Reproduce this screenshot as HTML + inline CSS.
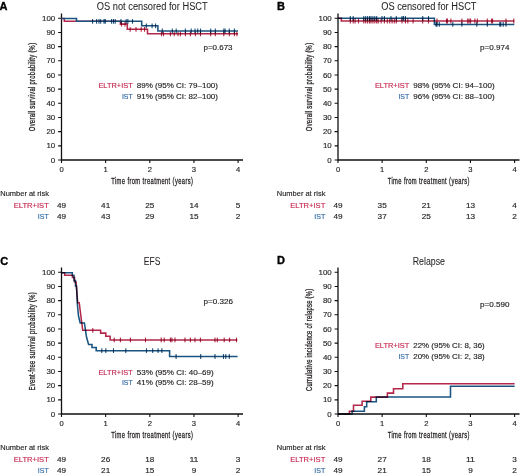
<!DOCTYPE html>
<html><head><meta charset="utf-8"><style>
html,body{margin:0;padding:0;background:#fff;}
svg{display:block;font-family:"Liberation Sans", sans-serif;filter:blur(0.3px);}
.c{mix-blend-mode:multiply;}
</style></head><body>
<svg width="520" height="475" viewBox="0 0 520 475">
<rect width="520" height="475" fill="#fff"/>
<text x="-0.60" y="9.90" font-size="11" fill="#000" font-weight="bold" stroke="#000" stroke-width="0.35">A</text>
<text x="96.80" y="10.20" font-size="10" fill="#231f20" textLength="110.90" lengthAdjust="spacingAndGlyphs" stroke="#231f20" stroke-width="0.05">OS not censored for HSCT</text>
<path d="M61.5,13.4V160.0H243" fill="none" stroke="#111" stroke-width="1.3"/>
<text x="55.20" y="162.60" font-size="7.6" fill="#231f20" text-anchor="end" textLength="4.40" lengthAdjust="spacingAndGlyphs" stroke="#231f20" stroke-width="0.15">0</text>
<text x="55.20" y="148.43" font-size="7.6" fill="#231f20" text-anchor="end" textLength="8.80" lengthAdjust="spacingAndGlyphs" stroke="#231f20" stroke-width="0.15">10</text>
<text x="55.20" y="134.26" font-size="7.6" fill="#231f20" text-anchor="end" textLength="8.80" lengthAdjust="spacingAndGlyphs" stroke="#231f20" stroke-width="0.15">20</text>
<text x="55.20" y="120.09" font-size="7.6" fill="#231f20" text-anchor="end" textLength="8.80" lengthAdjust="spacingAndGlyphs" stroke="#231f20" stroke-width="0.15">30</text>
<text x="55.20" y="105.92" font-size="7.6" fill="#231f20" text-anchor="end" textLength="8.80" lengthAdjust="spacingAndGlyphs" stroke="#231f20" stroke-width="0.15">40</text>
<text x="55.20" y="91.75" font-size="7.6" fill="#231f20" text-anchor="end" textLength="8.80" lengthAdjust="spacingAndGlyphs" stroke="#231f20" stroke-width="0.15">50</text>
<text x="55.20" y="77.58" font-size="7.6" fill="#231f20" text-anchor="end" textLength="8.80" lengthAdjust="spacingAndGlyphs" stroke="#231f20" stroke-width="0.15">60</text>
<text x="55.20" y="63.41" font-size="7.6" fill="#231f20" text-anchor="end" textLength="8.80" lengthAdjust="spacingAndGlyphs" stroke="#231f20" stroke-width="0.15">70</text>
<text x="55.20" y="49.24" font-size="7.6" fill="#231f20" text-anchor="end" textLength="8.80" lengthAdjust="spacingAndGlyphs" stroke="#231f20" stroke-width="0.15">80</text>
<text x="55.20" y="35.07" font-size="7.6" fill="#231f20" text-anchor="end" textLength="8.80" lengthAdjust="spacingAndGlyphs" stroke="#231f20" stroke-width="0.15">90</text>
<text x="55.20" y="20.90" font-size="7.6" fill="#231f20" text-anchor="end" textLength="13.20" lengthAdjust="spacingAndGlyphs" stroke="#231f20" stroke-width="0.15">100</text>
<text x="61.50" y="172.00" font-size="7.6" fill="#231f20" text-anchor="middle" stroke="#231f20" stroke-width="0.15">0</text>
<text x="105.65" y="172.00" font-size="7.6" fill="#231f20" text-anchor="middle" stroke="#231f20" stroke-width="0.15">1</text>
<text x="149.80" y="172.00" font-size="7.6" fill="#231f20" text-anchor="middle" stroke="#231f20" stroke-width="0.15">2</text>
<text x="193.95" y="172.00" font-size="7.6" fill="#231f20" text-anchor="middle" stroke="#231f20" stroke-width="0.15">3</text>
<text x="238.10" y="172.00" font-size="7.6" fill="#231f20" text-anchor="middle" stroke="#231f20" stroke-width="0.15">4</text>
<path d="M58.1,160.00H61.5M58.1,145.83H61.5M58.1,131.66H61.5M58.1,117.49H61.5M58.1,103.32H61.5M58.1,89.15H61.5M58.1,74.98H61.5M58.1,60.81H61.5M58.1,46.64H61.5M58.1,32.47H61.5M58.1,18.30H61.5M61.50,160.0V163.0M105.65,160.0V163.0M149.80,160.0V163.0M193.95,160.0V163.0M238.10,160.0V163.0" stroke="#111" stroke-width="1.1" fill="none"/>
<text transform="translate(35.3,131.20) rotate(-90) scale(0.66,1)" font-size="8.9" fill="#231f20" stroke="#231f20" stroke-width="0.3" textLength="133.79" lengthAdjust="spacing">Overall survival probability (%)</text>
<text transform="translate(111.2,183.5) scale(0.66,1)" font-size="8.8" fill="#231f20" stroke="#231f20" stroke-width="0.3" textLength="123.94" lengthAdjust="spacing">Time from treatment (years)</text>
<text x="0.30" y="196.30" font-size="7.9" fill="#231f20" textLength="48.60" lengthAdjust="spacingAndGlyphs" stroke="#231f20" stroke-width="0.15">Number at risk</text>
<text x="48.80" y="208.00" font-size="7.9" fill="#c52a52" text-anchor="end" textLength="35.00" lengthAdjust="spacingAndGlyphs" stroke="#c52a52" stroke-width="0.15">ELTR+IST</text>
<text x="48.80" y="218.50" font-size="7.9" fill="#2f6aa5" text-anchor="end" textLength="11.00" lengthAdjust="spacingAndGlyphs" stroke="#2f6aa5" stroke-width="0.15">IST</text>
<text x="61.50" y="208.00" font-size="7.9" fill="#231f20" text-anchor="middle" textLength="9.10" lengthAdjust="spacingAndGlyphs" stroke="#231f20" stroke-width="0.15">49</text>
<text x="105.65" y="208.00" font-size="7.9" fill="#231f20" text-anchor="middle" textLength="9.10" lengthAdjust="spacingAndGlyphs" stroke="#231f20" stroke-width="0.15">41</text>
<text x="149.80" y="208.00" font-size="7.9" fill="#231f20" text-anchor="middle" textLength="9.10" lengthAdjust="spacingAndGlyphs" stroke="#231f20" stroke-width="0.15">25</text>
<text x="193.95" y="208.00" font-size="7.9" fill="#231f20" text-anchor="middle" textLength="9.10" lengthAdjust="spacingAndGlyphs" stroke="#231f20" stroke-width="0.15">14</text>
<text x="238.10" y="208.00" font-size="7.9" fill="#231f20" text-anchor="middle" textLength="4.55" lengthAdjust="spacingAndGlyphs" stroke="#231f20" stroke-width="0.15">5</text>
<text x="61.50" y="218.50" font-size="7.9" fill="#231f20" text-anchor="middle" textLength="9.10" lengthAdjust="spacingAndGlyphs" stroke="#231f20" stroke-width="0.15">49</text>
<text x="105.65" y="218.50" font-size="7.9" fill="#231f20" text-anchor="middle" textLength="9.10" lengthAdjust="spacingAndGlyphs" stroke="#231f20" stroke-width="0.15">43</text>
<text x="149.80" y="218.50" font-size="7.9" fill="#231f20" text-anchor="middle" textLength="9.10" lengthAdjust="spacingAndGlyphs" stroke="#231f20" stroke-width="0.15">29</text>
<text x="193.95" y="218.50" font-size="7.9" fill="#231f20" text-anchor="middle" textLength="9.10" lengthAdjust="spacingAndGlyphs" stroke="#231f20" stroke-width="0.15">15</text>
<text x="238.10" y="218.50" font-size="7.9" fill="#231f20" text-anchor="middle" textLength="4.55" lengthAdjust="spacingAndGlyphs" stroke="#231f20" stroke-width="0.15">2</text>
<text x="203.50" y="50.00" font-size="7.2" fill="#231f20" textLength="29.00" lengthAdjust="spacingAndGlyphs" stroke="#231f20" stroke-width="0.15">p=0.673</text>
<text x="132.70" y="88.30" font-size="7.8" fill="#c52a52" text-anchor="end" textLength="34.30" lengthAdjust="spacingAndGlyphs" stroke="#c52a52" stroke-width="0.15">ELTR+IST</text>
<text x="132.70" y="98.80" font-size="7.8" fill="#2f6aa5" text-anchor="end" textLength="10.80" lengthAdjust="spacingAndGlyphs" stroke="#2f6aa5" stroke-width="0.15">IST</text>
<text x="136.80" y="88.30" font-size="7.8" fill="#231f20" textLength="81.20" lengthAdjust="spacingAndGlyphs" stroke="#231f20" stroke-width="0.15">89% (95% CI: 79–100)</text>
<text x="136.80" y="98.80" font-size="7.8" fill="#231f20" textLength="81.20" lengthAdjust="spacingAndGlyphs" stroke="#231f20" stroke-width="0.15">91% (95% CI: 82–100)</text>
<text x="277.00" y="10.20" font-size="11" fill="#000" font-weight="bold" stroke="#000" stroke-width="0.35">B</text>
<text x="381.20" y="10.20" font-size="10" fill="#231f20" textLength="95.30" lengthAdjust="spacingAndGlyphs" stroke="#231f20" stroke-width="0.05">OS censored for HSCT</text>
<path d="M338.0,13.4V160.0H519.5" fill="none" stroke="#111" stroke-width="1.3"/>
<text x="331.70" y="162.60" font-size="7.6" fill="#231f20" text-anchor="end" textLength="4.40" lengthAdjust="spacingAndGlyphs" stroke="#231f20" stroke-width="0.15">0</text>
<text x="331.70" y="148.43" font-size="7.6" fill="#231f20" text-anchor="end" textLength="8.80" lengthAdjust="spacingAndGlyphs" stroke="#231f20" stroke-width="0.15">10</text>
<text x="331.70" y="134.26" font-size="7.6" fill="#231f20" text-anchor="end" textLength="8.80" lengthAdjust="spacingAndGlyphs" stroke="#231f20" stroke-width="0.15">20</text>
<text x="331.70" y="120.09" font-size="7.6" fill="#231f20" text-anchor="end" textLength="8.80" lengthAdjust="spacingAndGlyphs" stroke="#231f20" stroke-width="0.15">30</text>
<text x="331.70" y="105.92" font-size="7.6" fill="#231f20" text-anchor="end" textLength="8.80" lengthAdjust="spacingAndGlyphs" stroke="#231f20" stroke-width="0.15">40</text>
<text x="331.70" y="91.75" font-size="7.6" fill="#231f20" text-anchor="end" textLength="8.80" lengthAdjust="spacingAndGlyphs" stroke="#231f20" stroke-width="0.15">50</text>
<text x="331.70" y="77.58" font-size="7.6" fill="#231f20" text-anchor="end" textLength="8.80" lengthAdjust="spacingAndGlyphs" stroke="#231f20" stroke-width="0.15">60</text>
<text x="331.70" y="63.41" font-size="7.6" fill="#231f20" text-anchor="end" textLength="8.80" lengthAdjust="spacingAndGlyphs" stroke="#231f20" stroke-width="0.15">70</text>
<text x="331.70" y="49.24" font-size="7.6" fill="#231f20" text-anchor="end" textLength="8.80" lengthAdjust="spacingAndGlyphs" stroke="#231f20" stroke-width="0.15">80</text>
<text x="331.70" y="35.07" font-size="7.6" fill="#231f20" text-anchor="end" textLength="8.80" lengthAdjust="spacingAndGlyphs" stroke="#231f20" stroke-width="0.15">90</text>
<text x="331.70" y="20.90" font-size="7.6" fill="#231f20" text-anchor="end" textLength="13.20" lengthAdjust="spacingAndGlyphs" stroke="#231f20" stroke-width="0.15">100</text>
<text x="338.00" y="172.00" font-size="7.6" fill="#231f20" text-anchor="middle" stroke="#231f20" stroke-width="0.15">0</text>
<text x="382.15" y="172.00" font-size="7.6" fill="#231f20" text-anchor="middle" stroke="#231f20" stroke-width="0.15">1</text>
<text x="426.30" y="172.00" font-size="7.6" fill="#231f20" text-anchor="middle" stroke="#231f20" stroke-width="0.15">2</text>
<text x="470.45" y="172.00" font-size="7.6" fill="#231f20" text-anchor="middle" stroke="#231f20" stroke-width="0.15">3</text>
<text x="514.60" y="172.00" font-size="7.6" fill="#231f20" text-anchor="middle" stroke="#231f20" stroke-width="0.15">4</text>
<path d="M334.6,160.00H338.0M334.6,145.83H338.0M334.6,131.66H338.0M334.6,117.49H338.0M334.6,103.32H338.0M334.6,89.15H338.0M334.6,74.98H338.0M334.6,60.81H338.0M334.6,46.64H338.0M334.6,32.47H338.0M334.6,18.30H338.0M338.00,160.0V163.0M382.15,160.0V163.0M426.30,160.0V163.0M470.45,160.0V163.0M514.60,160.0V163.0" stroke="#111" stroke-width="1.1" fill="none"/>
<text transform="translate(311.8,131.20) rotate(-90) scale(0.66,1)" font-size="8.9" fill="#231f20" stroke="#231f20" stroke-width="0.3" textLength="133.79" lengthAdjust="spacing">Overall survival probability (%)</text>
<text transform="translate(387.7,183.5) scale(0.66,1)" font-size="8.8" fill="#231f20" stroke="#231f20" stroke-width="0.3" textLength="123.94" lengthAdjust="spacing">Time from treatment (years)</text>
<text x="276.80" y="196.30" font-size="7.9" fill="#231f20" textLength="48.60" lengthAdjust="spacingAndGlyphs" stroke="#231f20" stroke-width="0.15">Number at risk</text>
<text x="325.30" y="208.00" font-size="7.9" fill="#c52a52" text-anchor="end" textLength="35.00" lengthAdjust="spacingAndGlyphs" stroke="#c52a52" stroke-width="0.15">ELTR+IST</text>
<text x="325.30" y="218.50" font-size="7.9" fill="#2f6aa5" text-anchor="end" textLength="11.00" lengthAdjust="spacingAndGlyphs" stroke="#2f6aa5" stroke-width="0.15">IST</text>
<text x="338.00" y="208.00" font-size="7.9" fill="#231f20" text-anchor="middle" textLength="9.10" lengthAdjust="spacingAndGlyphs" stroke="#231f20" stroke-width="0.15">49</text>
<text x="382.15" y="208.00" font-size="7.9" fill="#231f20" text-anchor="middle" textLength="9.10" lengthAdjust="spacingAndGlyphs" stroke="#231f20" stroke-width="0.15">35</text>
<text x="426.30" y="208.00" font-size="7.9" fill="#231f20" text-anchor="middle" textLength="9.10" lengthAdjust="spacingAndGlyphs" stroke="#231f20" stroke-width="0.15">21</text>
<text x="470.45" y="208.00" font-size="7.9" fill="#231f20" text-anchor="middle" textLength="9.10" lengthAdjust="spacingAndGlyphs" stroke="#231f20" stroke-width="0.15">13</text>
<text x="514.60" y="208.00" font-size="7.9" fill="#231f20" text-anchor="middle" textLength="4.55" lengthAdjust="spacingAndGlyphs" stroke="#231f20" stroke-width="0.15">4</text>
<text x="338.00" y="218.50" font-size="7.9" fill="#231f20" text-anchor="middle" textLength="9.10" lengthAdjust="spacingAndGlyphs" stroke="#231f20" stroke-width="0.15">49</text>
<text x="382.15" y="218.50" font-size="7.9" fill="#231f20" text-anchor="middle" textLength="9.10" lengthAdjust="spacingAndGlyphs" stroke="#231f20" stroke-width="0.15">37</text>
<text x="426.30" y="218.50" font-size="7.9" fill="#231f20" text-anchor="middle" textLength="9.10" lengthAdjust="spacingAndGlyphs" stroke="#231f20" stroke-width="0.15">25</text>
<text x="470.45" y="218.50" font-size="7.9" fill="#231f20" text-anchor="middle" textLength="9.10" lengthAdjust="spacingAndGlyphs" stroke="#231f20" stroke-width="0.15">13</text>
<text x="514.60" y="218.50" font-size="7.9" fill="#231f20" text-anchor="middle" textLength="4.55" lengthAdjust="spacingAndGlyphs" stroke="#231f20" stroke-width="0.15">2</text>
<text x="480.10" y="50.00" font-size="7.2" fill="#231f20" textLength="29.30" lengthAdjust="spacingAndGlyphs" stroke="#231f20" stroke-width="0.15">p=0.974</text>
<text x="409.20" y="88.30" font-size="7.8" fill="#c52a52" text-anchor="end" textLength="34.30" lengthAdjust="spacingAndGlyphs" stroke="#c52a52" stroke-width="0.15">ELTR+IST</text>
<text x="409.20" y="98.80" font-size="7.8" fill="#2f6aa5" text-anchor="end" textLength="10.80" lengthAdjust="spacingAndGlyphs" stroke="#2f6aa5" stroke-width="0.15">IST</text>
<text x="413.30" y="88.30" font-size="7.8" fill="#231f20" textLength="81.30" lengthAdjust="spacingAndGlyphs" stroke="#231f20" stroke-width="0.15">98% (95% CI: 94–100)</text>
<text x="413.30" y="98.80" font-size="7.8" fill="#231f20" textLength="81.30" lengthAdjust="spacingAndGlyphs" stroke="#231f20" stroke-width="0.15">96% (95% CI: 88–100)</text>
<text x="0.20" y="264.50" font-size="11" fill="#000" font-weight="bold" stroke="#000" stroke-width="0.35">C</text>
<text x="143.80" y="264.60" font-size="10" fill="#231f20" textLength="16.60" lengthAdjust="spacingAndGlyphs" stroke="#231f20" stroke-width="0.05">EFS</text>
<path d="M61.5,267.4V414.0H243" fill="none" stroke="#111" stroke-width="1.3"/>
<text x="55.20" y="416.60" font-size="7.6" fill="#231f20" text-anchor="end" textLength="4.40" lengthAdjust="spacingAndGlyphs" stroke="#231f20" stroke-width="0.15">0</text>
<text x="55.20" y="402.43" font-size="7.6" fill="#231f20" text-anchor="end" textLength="8.80" lengthAdjust="spacingAndGlyphs" stroke="#231f20" stroke-width="0.15">10</text>
<text x="55.20" y="388.26" font-size="7.6" fill="#231f20" text-anchor="end" textLength="8.80" lengthAdjust="spacingAndGlyphs" stroke="#231f20" stroke-width="0.15">20</text>
<text x="55.20" y="374.09" font-size="7.6" fill="#231f20" text-anchor="end" textLength="8.80" lengthAdjust="spacingAndGlyphs" stroke="#231f20" stroke-width="0.15">30</text>
<text x="55.20" y="359.92" font-size="7.6" fill="#231f20" text-anchor="end" textLength="8.80" lengthAdjust="spacingAndGlyphs" stroke="#231f20" stroke-width="0.15">40</text>
<text x="55.20" y="345.75" font-size="7.6" fill="#231f20" text-anchor="end" textLength="8.80" lengthAdjust="spacingAndGlyphs" stroke="#231f20" stroke-width="0.15">50</text>
<text x="55.20" y="331.58" font-size="7.6" fill="#231f20" text-anchor="end" textLength="8.80" lengthAdjust="spacingAndGlyphs" stroke="#231f20" stroke-width="0.15">60</text>
<text x="55.20" y="317.41" font-size="7.6" fill="#231f20" text-anchor="end" textLength="8.80" lengthAdjust="spacingAndGlyphs" stroke="#231f20" stroke-width="0.15">70</text>
<text x="55.20" y="303.24" font-size="7.6" fill="#231f20" text-anchor="end" textLength="8.80" lengthAdjust="spacingAndGlyphs" stroke="#231f20" stroke-width="0.15">80</text>
<text x="55.20" y="289.07" font-size="7.6" fill="#231f20" text-anchor="end" textLength="8.80" lengthAdjust="spacingAndGlyphs" stroke="#231f20" stroke-width="0.15">90</text>
<text x="55.20" y="274.90" font-size="7.6" fill="#231f20" text-anchor="end" textLength="13.20" lengthAdjust="spacingAndGlyphs" stroke="#231f20" stroke-width="0.15">100</text>
<text x="61.50" y="426.00" font-size="7.6" fill="#231f20" text-anchor="middle" stroke="#231f20" stroke-width="0.15">0</text>
<text x="105.65" y="426.00" font-size="7.6" fill="#231f20" text-anchor="middle" stroke="#231f20" stroke-width="0.15">1</text>
<text x="149.80" y="426.00" font-size="7.6" fill="#231f20" text-anchor="middle" stroke="#231f20" stroke-width="0.15">2</text>
<text x="193.95" y="426.00" font-size="7.6" fill="#231f20" text-anchor="middle" stroke="#231f20" stroke-width="0.15">3</text>
<text x="238.10" y="426.00" font-size="7.6" fill="#231f20" text-anchor="middle" stroke="#231f20" stroke-width="0.15">4</text>
<path d="M58.1,414.00H61.5M58.1,399.83H61.5M58.1,385.66H61.5M58.1,371.49H61.5M58.1,357.32H61.5M58.1,343.15H61.5M58.1,328.98H61.5M58.1,314.81H61.5M58.1,300.64H61.5M58.1,286.47H61.5M58.1,272.30H61.5M61.50,414.0V417.0M105.65,414.0V417.0M149.80,414.0V417.0M193.95,414.0V417.0M238.10,414.0V417.0" stroke="#111" stroke-width="1.1" fill="none"/>
<text transform="translate(35.3,390.50) rotate(-90) scale(0.66,1)" font-size="8.9" fill="#231f20" stroke="#231f20" stroke-width="0.3" textLength="148.94" lengthAdjust="spacing">Event-free survival probability (%)</text>
<text transform="translate(111.2,437.5) scale(0.66,1)" font-size="8.8" fill="#231f20" stroke="#231f20" stroke-width="0.3" textLength="123.94" lengthAdjust="spacing">Time from treatment (years)</text>
<text x="0.30" y="450.30" font-size="7.9" fill="#231f20" textLength="48.60" lengthAdjust="spacingAndGlyphs" stroke="#231f20" stroke-width="0.15">Number at risk</text>
<text x="48.80" y="462.00" font-size="7.9" fill="#c52a52" text-anchor="end" textLength="35.00" lengthAdjust="spacingAndGlyphs" stroke="#c52a52" stroke-width="0.15">ELTR+IST</text>
<text x="48.80" y="472.50" font-size="7.9" fill="#2f6aa5" text-anchor="end" textLength="11.00" lengthAdjust="spacingAndGlyphs" stroke="#2f6aa5" stroke-width="0.15">IST</text>
<text x="61.50" y="462.00" font-size="7.9" fill="#231f20" text-anchor="middle" textLength="9.10" lengthAdjust="spacingAndGlyphs" stroke="#231f20" stroke-width="0.15">49</text>
<text x="105.65" y="462.00" font-size="7.9" fill="#231f20" text-anchor="middle" textLength="9.10" lengthAdjust="spacingAndGlyphs" stroke="#231f20" stroke-width="0.15">26</text>
<text x="149.80" y="462.00" font-size="7.9" fill="#231f20" text-anchor="middle" textLength="9.10" lengthAdjust="spacingAndGlyphs" stroke="#231f20" stroke-width="0.15">18</text>
<text x="193.95" y="462.00" font-size="7.9" fill="#231f20" text-anchor="middle" textLength="9.10" lengthAdjust="spacingAndGlyphs" stroke="#231f20" stroke-width="0.15">11</text>
<text x="238.10" y="462.00" font-size="7.9" fill="#231f20" text-anchor="middle" textLength="4.55" lengthAdjust="spacingAndGlyphs" stroke="#231f20" stroke-width="0.15">3</text>
<text x="61.50" y="472.50" font-size="7.9" fill="#231f20" text-anchor="middle" textLength="9.10" lengthAdjust="spacingAndGlyphs" stroke="#231f20" stroke-width="0.15">49</text>
<text x="105.65" y="472.50" font-size="7.9" fill="#231f20" text-anchor="middle" textLength="9.10" lengthAdjust="spacingAndGlyphs" stroke="#231f20" stroke-width="0.15">21</text>
<text x="149.80" y="472.50" font-size="7.9" fill="#231f20" text-anchor="middle" textLength="9.10" lengthAdjust="spacingAndGlyphs" stroke="#231f20" stroke-width="0.15">15</text>
<text x="193.95" y="472.50" font-size="7.9" fill="#231f20" text-anchor="middle" textLength="4.55" lengthAdjust="spacingAndGlyphs" stroke="#231f20" stroke-width="0.15">9</text>
<text x="238.10" y="472.50" font-size="7.9" fill="#231f20" text-anchor="middle" textLength="4.55" lengthAdjust="spacingAndGlyphs" stroke="#231f20" stroke-width="0.15">2</text>
<text x="203.50" y="304.20" font-size="7.2" fill="#231f20" textLength="29.50" lengthAdjust="spacingAndGlyphs" stroke="#231f20" stroke-width="0.15">p=0.326</text>
<text x="132.70" y="374.60" font-size="7.8" fill="#c52a52" text-anchor="end" textLength="34.30" lengthAdjust="spacingAndGlyphs" stroke="#c52a52" stroke-width="0.15">ELTR+IST</text>
<text x="132.70" y="385.10" font-size="7.8" fill="#2f6aa5" text-anchor="end" textLength="10.80" lengthAdjust="spacingAndGlyphs" stroke="#2f6aa5" stroke-width="0.15">IST</text>
<text x="136.80" y="374.60" font-size="7.8" fill="#231f20" textLength="76.90" lengthAdjust="spacingAndGlyphs" stroke="#231f20" stroke-width="0.15">53% (95% CI: 40–69)</text>
<text x="136.80" y="385.10" font-size="7.8" fill="#231f20" textLength="76.90" lengthAdjust="spacingAndGlyphs" stroke="#231f20" stroke-width="0.15">41% (95% CI: 28–59)</text>
<text x="276.90" y="264.10" font-size="11" fill="#000" font-weight="bold" stroke="#000" stroke-width="0.35">D</text>
<text x="412.70" y="264.60" font-size="10" fill="#231f20" textLength="32.30" lengthAdjust="spacingAndGlyphs" stroke="#231f20" stroke-width="0.05">Relapse</text>
<path d="M338.0,267.4V414.0H519.5" fill="none" stroke="#111" stroke-width="1.3"/>
<text x="331.70" y="416.60" font-size="7.6" fill="#231f20" text-anchor="end" textLength="4.40" lengthAdjust="spacingAndGlyphs" stroke="#231f20" stroke-width="0.15">0</text>
<text x="331.70" y="402.43" font-size="7.6" fill="#231f20" text-anchor="end" textLength="8.80" lengthAdjust="spacingAndGlyphs" stroke="#231f20" stroke-width="0.15">10</text>
<text x="331.70" y="388.26" font-size="7.6" fill="#231f20" text-anchor="end" textLength="8.80" lengthAdjust="spacingAndGlyphs" stroke="#231f20" stroke-width="0.15">20</text>
<text x="331.70" y="374.09" font-size="7.6" fill="#231f20" text-anchor="end" textLength="8.80" lengthAdjust="spacingAndGlyphs" stroke="#231f20" stroke-width="0.15">30</text>
<text x="331.70" y="359.92" font-size="7.6" fill="#231f20" text-anchor="end" textLength="8.80" lengthAdjust="spacingAndGlyphs" stroke="#231f20" stroke-width="0.15">40</text>
<text x="331.70" y="345.75" font-size="7.6" fill="#231f20" text-anchor="end" textLength="8.80" lengthAdjust="spacingAndGlyphs" stroke="#231f20" stroke-width="0.15">50</text>
<text x="331.70" y="331.58" font-size="7.6" fill="#231f20" text-anchor="end" textLength="8.80" lengthAdjust="spacingAndGlyphs" stroke="#231f20" stroke-width="0.15">60</text>
<text x="331.70" y="317.41" font-size="7.6" fill="#231f20" text-anchor="end" textLength="8.80" lengthAdjust="spacingAndGlyphs" stroke="#231f20" stroke-width="0.15">70</text>
<text x="331.70" y="303.24" font-size="7.6" fill="#231f20" text-anchor="end" textLength="8.80" lengthAdjust="spacingAndGlyphs" stroke="#231f20" stroke-width="0.15">80</text>
<text x="331.70" y="289.07" font-size="7.6" fill="#231f20" text-anchor="end" textLength="8.80" lengthAdjust="spacingAndGlyphs" stroke="#231f20" stroke-width="0.15">90</text>
<text x="331.70" y="274.90" font-size="7.6" fill="#231f20" text-anchor="end" textLength="13.20" lengthAdjust="spacingAndGlyphs" stroke="#231f20" stroke-width="0.15">100</text>
<text x="338.00" y="426.00" font-size="7.6" fill="#231f20" text-anchor="middle" stroke="#231f20" stroke-width="0.15">0</text>
<text x="382.15" y="426.00" font-size="7.6" fill="#231f20" text-anchor="middle" stroke="#231f20" stroke-width="0.15">1</text>
<text x="426.30" y="426.00" font-size="7.6" fill="#231f20" text-anchor="middle" stroke="#231f20" stroke-width="0.15">2</text>
<text x="470.45" y="426.00" font-size="7.6" fill="#231f20" text-anchor="middle" stroke="#231f20" stroke-width="0.15">3</text>
<text x="514.60" y="426.00" font-size="7.6" fill="#231f20" text-anchor="middle" stroke="#231f20" stroke-width="0.15">4</text>
<path d="M334.6,414.00H338.0M334.6,399.83H338.0M334.6,385.66H338.0M334.6,371.49H338.0M334.6,357.32H338.0M334.6,343.15H338.0M334.6,328.98H338.0M334.6,314.81H338.0M334.6,300.64H338.0M334.6,286.47H338.0M334.6,272.30H338.0M338.00,414.0V417.0M382.15,414.0V417.0M426.30,414.0V417.0M470.45,414.0V417.0M514.60,414.0V417.0" stroke="#111" stroke-width="1.1" fill="none"/>
<text transform="translate(311.8,391.10) rotate(-90) scale(0.66,1)" font-size="8.9" fill="#231f20" stroke="#231f20" stroke-width="0.3" textLength="155.00" lengthAdjust="spacing">Cumulative incidence of relapse (%)</text>
<text transform="translate(387.7,437.5) scale(0.66,1)" font-size="8.8" fill="#231f20" stroke="#231f20" stroke-width="0.3" textLength="123.94" lengthAdjust="spacing">Time from treatment (years)</text>
<text x="276.80" y="450.30" font-size="7.9" fill="#231f20" textLength="48.60" lengthAdjust="spacingAndGlyphs" stroke="#231f20" stroke-width="0.15">Number at risk</text>
<text x="325.30" y="462.00" font-size="7.9" fill="#c52a52" text-anchor="end" textLength="35.00" lengthAdjust="spacingAndGlyphs" stroke="#c52a52" stroke-width="0.15">ELTR+IST</text>
<text x="325.30" y="472.50" font-size="7.9" fill="#2f6aa5" text-anchor="end" textLength="11.00" lengthAdjust="spacingAndGlyphs" stroke="#2f6aa5" stroke-width="0.15">IST</text>
<text x="338.00" y="462.00" font-size="7.9" fill="#231f20" text-anchor="middle" textLength="9.10" lengthAdjust="spacingAndGlyphs" stroke="#231f20" stroke-width="0.15">49</text>
<text x="382.15" y="462.00" font-size="7.9" fill="#231f20" text-anchor="middle" textLength="9.10" lengthAdjust="spacingAndGlyphs" stroke="#231f20" stroke-width="0.15">27</text>
<text x="426.30" y="462.00" font-size="7.9" fill="#231f20" text-anchor="middle" textLength="9.10" lengthAdjust="spacingAndGlyphs" stroke="#231f20" stroke-width="0.15">18</text>
<text x="470.45" y="462.00" font-size="7.9" fill="#231f20" text-anchor="middle" textLength="9.10" lengthAdjust="spacingAndGlyphs" stroke="#231f20" stroke-width="0.15">11</text>
<text x="514.60" y="462.00" font-size="7.9" fill="#231f20" text-anchor="middle" textLength="4.55" lengthAdjust="spacingAndGlyphs" stroke="#231f20" stroke-width="0.15">3</text>
<text x="338.00" y="472.50" font-size="7.9" fill="#231f20" text-anchor="middle" textLength="9.10" lengthAdjust="spacingAndGlyphs" stroke="#231f20" stroke-width="0.15">49</text>
<text x="382.15" y="472.50" font-size="7.9" fill="#231f20" text-anchor="middle" textLength="9.10" lengthAdjust="spacingAndGlyphs" stroke="#231f20" stroke-width="0.15">21</text>
<text x="426.30" y="472.50" font-size="7.9" fill="#231f20" text-anchor="middle" textLength="9.10" lengthAdjust="spacingAndGlyphs" stroke="#231f20" stroke-width="0.15">15</text>
<text x="470.45" y="472.50" font-size="7.9" fill="#231f20" text-anchor="middle" textLength="4.55" lengthAdjust="spacingAndGlyphs" stroke="#231f20" stroke-width="0.15">9</text>
<text x="514.60" y="472.50" font-size="7.9" fill="#231f20" text-anchor="middle" textLength="4.55" lengthAdjust="spacingAndGlyphs" stroke="#231f20" stroke-width="0.15">2</text>
<text x="480.10" y="306.50" font-size="7.2" fill="#231f20" textLength="29.30" lengthAdjust="spacingAndGlyphs" stroke="#231f20" stroke-width="0.15">p=0.590</text>
<text x="409.20" y="348.20" font-size="7.8" fill="#c52a52" text-anchor="end" textLength="34.30" lengthAdjust="spacingAndGlyphs" stroke="#c52a52" stroke-width="0.15">ELTR+IST</text>
<text x="409.20" y="358.70" font-size="7.8" fill="#2f6aa5" text-anchor="end" textLength="10.80" lengthAdjust="spacingAndGlyphs" stroke="#2f6aa5" stroke-width="0.15">IST</text>
<text x="413.30" y="348.20" font-size="7.8" fill="#231f20" textLength="71.40" lengthAdjust="spacingAndGlyphs" stroke="#231f20" stroke-width="0.15">22% (95% CI: 8, 36)</text>
<text x="413.30" y="358.70" font-size="7.8" fill="#231f20" textLength="71.40" lengthAdjust="spacingAndGlyphs" stroke="#231f20" stroke-width="0.15">20% (95% CI: 2, 38)</text>
<path class="n" d="M61.5,18.4H64.3V21.3H120.4V24.1H127.3V29.3H147.5V33.8H238" fill="none" stroke="#b3284a" stroke-width="1.55" stroke-linejoin="miter"/>
<path class="c" d="M121.5,21.7V26.5M125.0,21.7V26.5" stroke="#b3284a" stroke-width="1.1" fill="none"/>
<path class="c" d="M130.2,26.9V31.7M136.0,26.9V31.7M141.2,26.9V31.7M144.6,26.9V31.7" stroke="#b3284a" stroke-width="1.1" fill="none"/>
<path class="c" d="M161.5,31.4V36.2M163.5,31.4V36.2M170.4,31.4V36.2M174.2,31.4V36.2M178.0,31.4V36.2M180.4,31.4V36.2M185.4,31.4V36.2M190.4,31.4V36.2M195.4,31.4V36.2M200.5,31.4V36.2M210.7,31.4V36.2M215.3,31.4V36.2M223.8,31.4V36.2M229.3,31.4V36.2M234.4,31.4V36.2M236.9,31.4V36.2" stroke="#b3284a" stroke-width="1.1" fill="none"/>
<path class="n" d="M61.5,18.4H76.5V21.3H141.7V25.8H157.9V30.9H238" fill="none" stroke="#1b5480" stroke-width="1.55" stroke-linejoin="miter"/>
<path class="c" d="M92.6,18.9V23.7M96.6,18.9V23.7M99.0,18.9V23.7M100.7,18.9V23.7M104.0,18.9V23.7M105.3,18.9V23.7M111.6,18.9V23.7M113.5,18.9V23.7M115.2,18.9V23.7M121.0,18.9V23.7M126.2,18.9V23.7M127.9,18.9V23.7M132.5,18.9V23.7" stroke="#1b5480" stroke-width="1.1" fill="none"/>
<path class="c" d="M146.3,23.4V28.2M152.1,23.4V28.2M155.6,23.4V28.2" stroke="#1b5480" stroke-width="1.1" fill="none"/>
<path class="c" d="M162.3,28.5V33.3M172.3,28.5V33.3M176.2,28.5V33.3M185.4,28.5V33.3M191.2,28.5V33.3M195.0,28.5V33.3M197.7,28.5V33.3M200.5,28.5V33.3M210.7,28.5V33.3M215.3,28.5V33.3M223.8,28.5V33.3M225.1,28.5V33.3M229.3,28.5V33.3M234.4,28.5V33.3" stroke="#1b5480" stroke-width="1.1" fill="none"/>
<path class="c" d="M338,18.3H341.3V21.0H514.3" fill="none" stroke="#b3284a" stroke-width="1.55" stroke-linejoin="miter"/>
<path class="c" d="M350.3,18.6V23.4M353.2,18.6V23.4M355.1,18.6V23.4M358.5,18.6V23.4M363.8,18.6V23.4M365.7,18.6V23.4M367.6,18.6V23.4M369.5,18.6V23.4M371.0,18.6V23.4M372.9,18.6V23.4M374.8,18.6V23.4M376.7,18.6V23.4M378.2,18.6V23.4M381.1,18.6V23.4M384.4,18.6V23.4M387.3,18.6V23.4M389.7,18.6V23.4M392.1,18.6V23.4M394.3,18.6V23.4M396.3,18.6V23.4M402.0,18.6V23.4M405.4,18.6V23.4M407.8,18.6V23.4M413.1,18.6V23.4M422.7,18.6V23.4M428.5,18.6V23.4M437.0,18.6V23.4M446.5,18.6V23.4M447.5,18.6V23.4M450.9,18.6V23.4M461.9,18.6V23.4M467.7,18.6V23.4M469.1,18.6V23.4M470.6,18.6V23.4M474.9,18.6V23.4M477.3,18.6V23.4M487.3,18.6V23.4M491.6,18.6V23.4M492.6,18.6V23.4M506.0,18.6V23.4M513.8,18.6V23.4" stroke="#b3284a" stroke-width="1.1" fill="none"/>
<path class="c" d="M338,18.3H434.4V24.4H514.3" fill="none" stroke="#1b5480" stroke-width="1.55" stroke-linejoin="miter"/>
<path class="c" d="M350.3,15.9V20.7M353.2,15.9V20.7M363.8,15.9V20.7M365.7,15.9V20.7M367.6,15.9V20.7M369.5,15.9V20.7M371.0,15.9V20.7M372.9,15.9V20.7M374.8,15.9V20.7M376.7,15.9V20.7M382.0,15.9V20.7M384.4,15.9V20.7M391.0,15.9V20.7M396.3,15.9V20.7M402.0,15.9V20.7M403.5,15.9V20.7M405.4,15.9V20.7M422.7,15.9V20.7M428.5,15.9V20.7" stroke="#1b5480" stroke-width="1.1" fill="none"/>
<path class="c" d="M436.0,22.0V26.8M437.0,22.0V26.8M439.3,22.0V26.8M452.8,22.0V26.8M461.9,22.0V26.8M476.8,22.0V26.8M487.3,22.0V26.8M499.8,22.0V26.8M500.8,22.0V26.8M503.2,22.0V26.8M506.0,22.0V26.8" stroke="#1b5480" stroke-width="1.1" fill="none"/>
<path class="c" d="M61.5,272.8H64.7V275.3H72.5V277.5H74.5V282H76L77.7,302.7H79.2L82.7,330.3H100.6V333.1H105.8V336.2H110.1V339.9H237.3" fill="none" stroke="#b3284a" stroke-width="1.55" stroke-linejoin="miter"/>
<path class="c" d="M92.8,327.9V332.7" stroke="#b3284a" stroke-width="1.1" fill="none"/>
<path class="c" d="M114.2,337.5V342.3M120.4,337.5V342.3M130.4,337.5V342.3M145.5,337.5V342.3M161.2,337.5V342.3M164.2,337.5V342.3M170.4,337.5V342.3M171.9,337.5V342.3M175.0,337.5V342.3M185.0,337.5V342.3M190.4,337.5V342.3M195.0,337.5V342.3M200.4,337.5V342.3M215.0,337.5V342.3M217.3,337.5V342.3M224.2,337.5V342.3M229.6,337.5V342.3M236.5,337.5V342.3" stroke="#b3284a" stroke-width="1.1" fill="none"/>
<path class="c" d="M61.5,272.8H72.3V275.5H74V280.5H75.5V286H76.5L77.4,304.5L78.5,316L80.2,323H84.4L86.5,337L88.6,344.5H92V347.4H96.2V350.7H169.6V356.5H237.6" fill="none" stroke="#1b5480" stroke-width="1.55" stroke-linejoin="miter"/>
<path class="c" d="M101.8,348.3V353.1M105.8,348.3V353.1M113.5,348.3V353.1M125.8,348.3V353.1M146.5,348.3V353.1M152.7,348.3V353.1M158.1,348.3V353.1M161.9,348.3V353.1" stroke="#1b5480" stroke-width="1.1" fill="none"/>
<path class="c" d="M176.1,354.1V358.9M200.7,354.1V358.9M215.0,354.1V358.9M223.5,354.1V358.9M225.8,354.1V358.9M229.3,354.1V358.9" stroke="#1b5480" stroke-width="1.1" fill="none"/>
<path class="c" d="M338,414H349.4V411.2H353.5V405.2H362.1V401.3H370.8V397.1H387.4V393.1H393.5V388.8H402.8V383.8H514.6" fill="none" stroke="#b3284a" stroke-width="1.55" stroke-linejoin="miter"/>
<path class="c" d="M338,414H352.1V411.2H364.4V406.8H366.7V401.7H376.3V396.9H450.5V386.2H514.6" fill="none" stroke="#1b5480" stroke-width="1.55" stroke-linejoin="miter"/>
</svg>
</body></html>
